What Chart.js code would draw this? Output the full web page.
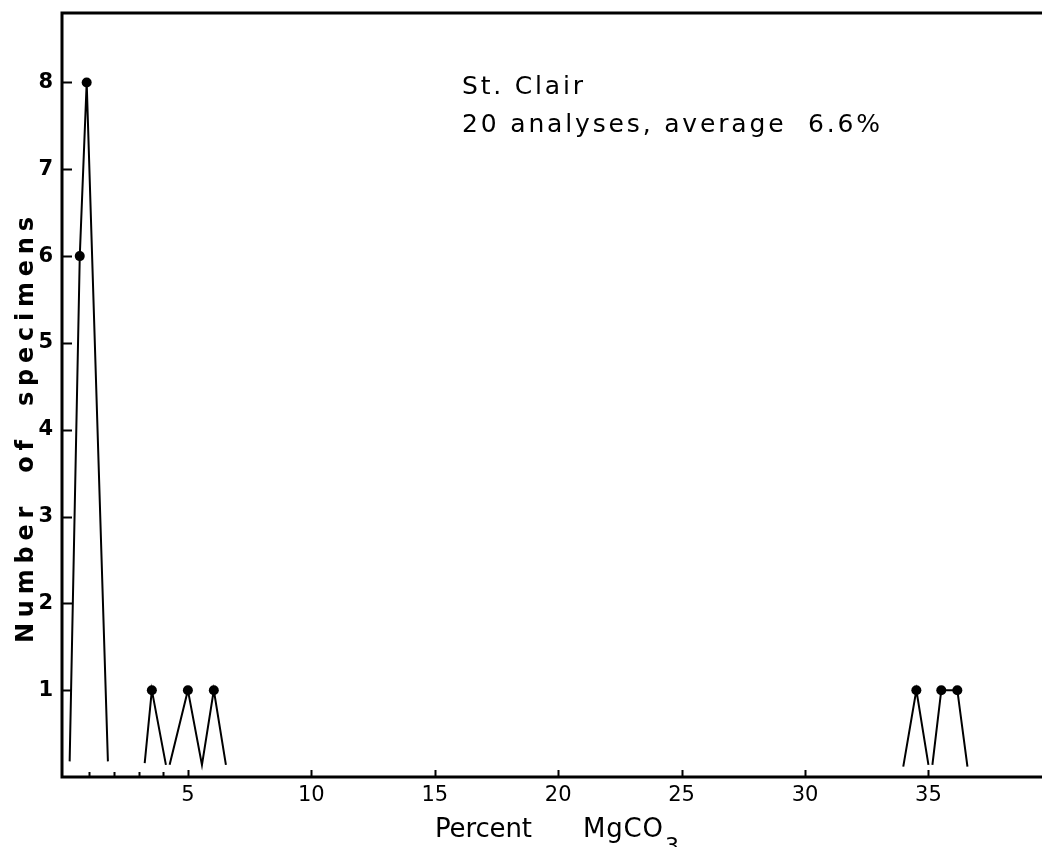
<!DOCTYPE html>
<html>
<head>
<meta charset="utf-8">
<script src="https://cdn.jsdelivr.net/npm/chart.js@4/dist/chart.umd.min.js"></script>
<style>
  html, body { margin: 0; padding: 0; background: #fff; }
  #c { display: block; }
</style>
</head>
<body>
<canvas id="c" width="1042" height="847"></canvas>
<script>
// ---- data (frequency polygons) ----
const group1X = [0.21, 0.62, 0.90, 1.76];
const group1Y = [0.18, 6, 8, 0.18];
const group2X = [3.25, 3.54, 4.11];
const group2Y = [0.16, 1, 0.14];
const group3X = [4.26, 5.0, 5.57, 6.05, 6.54];
const group3Y = [0.14, 1, 0.14, 1, 0.14];
const group4X = [33.98, 34.51, 35.0];
const group4Y = [0.12, 1, 0.14];
const group5X = [35.16, 35.52, 36.17, 36.58];
const group5Y = [0.14, 1, 1, 0.12];

const xTickValues = [5, 10, 15, 20, 25, 30, 35];
const xMinorTicks = [1, 2, 3, 4];
const yTickValues = [1, 2, 3, 4, 5, 6, 7, 8];

const annotationLines = ["St. Clair", "20 analyses, average  6.6%"];
const yTitle = "Number  of  specimens";
const xTitleMain = "Percent";
const xTitleFormula = "MgCO";
const xTitleSub = "3";

const groups = [
  [group1X, group1Y], [group2X, group2Y], [group3X, group3Y],
  [group4X, group4Y], [group5X, group5Y]
];

const datasets = groups.map(([xs, ys]) => ({
  data: xs.map((x, i) => ({ x: x, y: ys[i] })),
  showLine: true,
  borderColor: '#000',
  backgroundColor: '#000',
  borderWidth: 2,
  pointRadius: (ctx) => (ctx.raw && ctx.raw.y >= 1 ? 5 : 0),
  pointBorderWidth: 0,
  pointHoverRadius: 5,
  tension: 0
}));

function drawSpaced(ctx, text, x, y, target) {
  ctx.letterSpacing = '0px';
  const w = ctx.measureText(text).width;
  const n = text.length;
  const sp = n > 1 ? (target - w) / (n - 1) : 0;
  ctx.letterSpacing = sp + 'px';
  ctx.fillText(text, x, y);
  ctx.letterSpacing = '0px';
}

const framePlugin = {
  id: 'frame',
  afterDraw(chart) {
    const ctx = chart.ctx;
    const a = chart.chartArea;
    const xs = chart.scales.x, ys = chart.scales.y;
    ctx.save();
    ctx.strokeStyle = '#000';
    ctx.fillStyle = '#000';
    // frame: top, left, bottom (right edge runs off the page)
    ctx.lineWidth = 3;
    ctx.beginPath();
    ctx.moveTo(a.right + 2, a.top);
    ctx.lineTo(a.left, a.top);
    ctx.lineTo(a.left, a.bottom);
    ctx.lineTo(a.right + 2, a.bottom);
    ctx.stroke();
    // ticks (inward)
    ctx.lineWidth = 2;
    ctx.beginPath();
    yTickValues.forEach(v => {
      const py = Math.round(ys.getPixelForValue(v)) + 0.5;
      ctx.moveTo(a.left, py);
      ctx.lineTo(a.left + 10, py);
    });
    xTickValues.forEach(v => {
      const px = Math.round(xs.getPixelForValue(v)) + 0.5;
      ctx.moveTo(px, a.bottom);
      ctx.lineTo(px, a.bottom - 7);
    });
    xMinorTicks.forEach(v => {
      const px = Math.round(xs.getPixelForValue(v)) + 0.5;
      ctx.moveTo(px, a.bottom);
      ctx.lineTo(px, a.bottom - 5);
    });
    ctx.stroke();

    // annotation
    ctx.textAlign = 'left';
    ctx.textBaseline = 'alphabetic';
    ctx.font = '25px "DejaVu Sans"';
    drawSpaced(ctx, annotationLines[0], 462, 94, 121);
    drawSpaced(ctx, annotationLines[1], 462, 132, 418);

    // x title
    ctx.font = '26px "DejaVu Sans"';
    drawSpaced(ctx, xTitleMain, 435, 837, 97);
    drawSpaced(ctx, xTitleFormula, 583, 837, 80);
    ctx.font = '22px "DejaVu Sans"';
    ctx.fillText(xTitleSub, 665, 853);

    // y title (rotated)
    ctx.translate(33, 643);
    ctx.rotate(-Math.PI / 2);
    ctx.font = 'bold 24px "DejaVu Sans"';
    drawSpaced(ctx, yTitle, 0, 0, 426);
    ctx.restore();
  }
};

new Chart(document.getElementById('c'), {
  type: 'scatter',
  data: { datasets: datasets },
  options: {
    responsive: false,
    animation: false,
    devicePixelRatio: 1,
    layout: { padding: { top: 13, right: 0, left: 0, bottom: 0 }, autoPadding: false },
    plugins: { legend: { display: false }, tooltip: { enabled: false }, title: { display: false } },
    scales: {
      x: {
        type: 'linear',
        min: -0.1,
        max: 39.6,
        grid: { display: false, drawTicks: false },
        border: { display: false },
        afterFit: (s) => { s.height = 70; s.paddingLeft = 0; s.paddingRight = 0; },
        afterBuildTicks: (s) => { s.ticks = xTickValues.map(v => ({ value: v })); },
        ticks: {
          autoSkip: false, maxRotation: 0, padding: 6, color: '#000',
          font: { family: 'DejaVu Sans', size: 21 },
          callback: (v) => String(v)
        }
      },
      y: {
        type: 'linear',
        min: 0,
        max: 8.8,
        grid: { display: false, drawTicks: false },
        border: { display: false },
        afterFit: (s) => { s.width = 62; s.paddingTop = 0; s.paddingBottom = 0; },
        afterBuildTicks: (s) => { s.ticks = yTickValues.map(v => ({ value: v })); },
        ticks: {
          autoSkip: false, padding: 9, color: '#000',
          font: { family: 'DejaVu Sans', size: 21, weight: 'bold' },
          callback: (v) => String(v)
        }
      }
    }
  },
  plugins: [framePlugin]
});
</script>
</body>
</html>
